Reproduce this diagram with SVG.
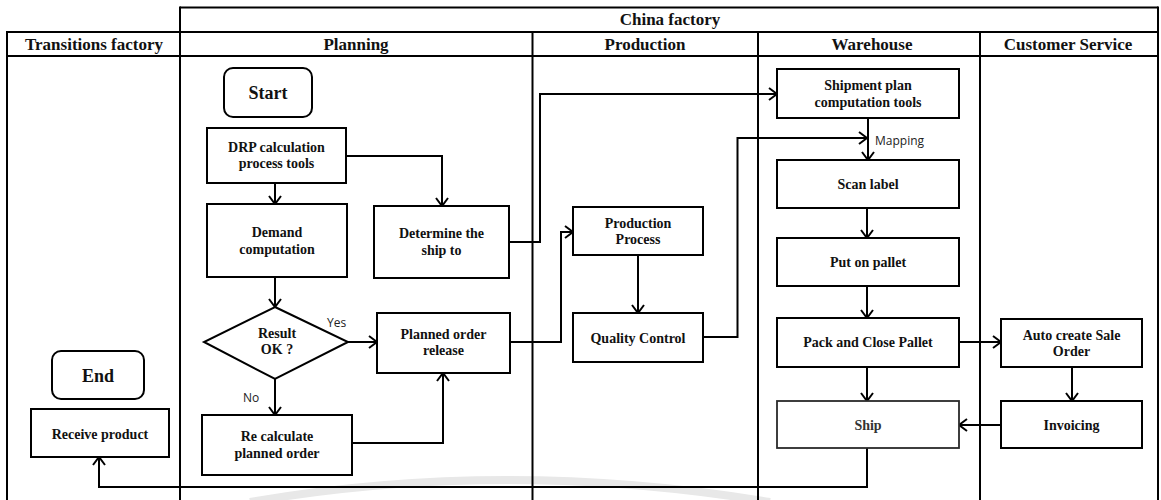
<svg xmlns="http://www.w3.org/2000/svg" width="1161" height="500" viewBox="0 0 1161 500">
  <style>
    .frame { stroke: #000; stroke-width: 2; fill: none; }
    .box { fill: #fff; stroke: #000; stroke-width: 2; }
    .box-soft { fill: #fff; stroke: #2a2a2a; stroke-width: 1.8; }
    .hdr { font-family: "Liberation Serif", "Times New Roman", serif; font-weight: bold; font-size: 17px; fill: #111; text-anchor: middle; }
    .lbl { font-family: "Liberation Serif", "Times New Roman", serif; font-weight: bold; font-size: 14px; fill: #111; text-anchor: middle; }
    .big { font-family: "Liberation Serif", "Times New Roman", serif; font-weight: bold; font-size: 18px; fill: #111; text-anchor: middle; }
    .note { font-family: "Open Sans", "Liberation Sans", sans-serif; font-size: 12px; fill: #222; }
    .wire { stroke: #000; stroke-width: 2; fill: none; marker-end: url(#arrow); }
  </style>
  <defs>
    <marker id="arrow" markerUnits="userSpaceOnUse" markerWidth="14" markerHeight="16" refX="10" refY="7" orient="auto">
      <path d="M2,1 L10,7 L2,13" fill="none" stroke="#000" stroke-width="2"/>
    </marker>
  </defs>

  <rect width="1161" height="500" fill="#fff"/>
  <!-- faint background arc near the bottom edge -->
  <path d="M250,502 Q505,458 770,502" fill="none" stroke="#e8e8e8" stroke-width="8"/>

  <!-- swimlane frame -->
  <g id="lanes">
    <line class="frame" x1="180" y1="7.5" x2="1158" y2="7.5"/>
    <line class="frame" x1="7" y1="32" x2="1158" y2="32"/>
    <line class="frame" x1="7" y1="56" x2="1158" y2="56"/>
    <line class="frame" x1="7" y1="31" x2="7" y2="500"/>
    <line class="frame" x1="180" y1="6.5" x2="180" y2="500"/>
    <line class="frame" x1="532.5" y1="32" x2="532.5" y2="500"/>
    <line class="frame" x1="758" y1="32" x2="758" y2="500"/>
    <line class="frame" x1="980" y1="32" x2="980" y2="500"/>
    <line class="frame" x1="1158" y1="6.5" x2="1158" y2="500"/>
    <text class="hdr" x="670" y="25">China factory</text>
    <text class="hdr" x="94" y="50">Transitions factory</text>
    <text class="hdr" x="356" y="50">Planning</text>
    <text class="hdr" x="645" y="50">Production</text>
    <text class="hdr" x="872" y="50">Warehouse</text>
    <text class="hdr" x="1068" y="50">Customer Service</text>
  </g>

  <!-- connectors -->
  <g id="connectors">
    <path class="wire" d="M275,183 V204"/>
    <path class="wire" d="M346,156 H442 V206"/>
    <path class="wire" d="M275,277 V307"/>
    <path class="wire" d="M348,342 H377"/>
    <path class="wire" d="M275,379 V415"/>
    <path class="wire" d="M352,443 H443 V373"/>
    <path class="wire" d="M510,342 H561 V232 H573"/>
    <path class="wire" d="M509,242 H540 V94 H777"/>
    <path class="wire" d="M638,255 V313"/>
    <path class="wire" d="M703,337 H737.5 V138 H867"/>
    <path class="wire" d="M868,118 V160"/>
    <path class="wire" d="M867,208 V238"/>
    <path class="wire" d="M867,286 V318"/>
    <path class="wire" d="M959,342 H1001"/>
    <path class="wire" d="M867,367 V401"/>
    <path class="wire" d="M1072,367 V401"/>
    <path class="wire" d="M1001,425 H959"/>
    <path class="wire" d="M867,448 V487 H99 V457"/>
    <text class="note" x="875" y="145">Mapping</text>
    <text class="note" x="327" y="327">Yes</text>
    <text class="note" x="243" y="402">No</text>
  </g>

  <g id="start">
    <rect class="box" x="224" y="68" width="88" height="49" rx="9"/>
    <text class="big" x="268" y="99">Start</text>
  </g>

  <g id="drp">
    <rect class="box" x="207" y="128" width="139" height="55"/>
    <text class="lbl" x="276.5" y="151.5">DRP calculation</text>
    <text class="lbl" x="276.5" y="168">process tools</text>
  </g>

  <g id="demand">
    <rect class="box" x="207" y="204" width="140" height="73"/>
    <text class="lbl" x="277" y="237">Demand</text>
    <text class="lbl" x="277" y="253.5">computation</text>
  </g>

  <g id="determine">
    <rect class="box" x="374" y="206" width="135" height="72"/>
    <text class="lbl" x="441.5" y="238">Determine the</text>
    <text class="lbl" x="441.5" y="255">ship to</text>
  </g>

  <g id="result">
    <polygon class="box" points="275,307 348,342 275,379 204,342"/>
    <text class="lbl" x="277" y="337.5">Result</text>
    <text class="lbl" x="277" y="354">OK ?</text>
  </g>

  <g id="planned-release">
    <rect class="box" x="377" y="313" width="133" height="60"/>
    <text class="lbl" x="443.5" y="338.5">Planned order</text>
    <text class="lbl" x="443.5" y="355">release</text>
  </g>

  <g id="recalculate">
    <rect class="box" x="202" y="415" width="150" height="60"/>
    <text class="lbl" x="277" y="441">Re calculate</text>
    <text class="lbl" x="277" y="457.5">planned order</text>
  </g>

  <g id="end">
    <rect class="box" x="52" y="351" width="92" height="48" rx="9"/>
    <text class="big" x="98" y="382">End</text>
  </g>

  <g id="receive">
    <rect class="box" x="31" y="409" width="138" height="48"/>
    <text class="lbl" x="100" y="439">Receive product</text>
  </g>

  <g id="production-process">
    <rect class="box" x="573" y="207" width="130" height="48"/>
    <text class="lbl" x="638" y="227.5">Production</text>
    <text class="lbl" x="638" y="243.5">Process</text>
  </g>

  <g id="quality-control">
    <rect class="box" x="573" y="313" width="130" height="49"/>
    <text class="lbl" x="638" y="342.5">Quality Control</text>
  </g>

  <g id="shipment-plan">
    <rect class="box" x="777" y="69" width="182" height="49"/>
    <text class="lbl" x="868" y="90">Shipment plan</text>
    <text class="lbl" x="868" y="106.5">computation tools</text>
  </g>

  <g id="scan-label">
    <rect class="box" x="777" y="160" width="182" height="48"/>
    <text class="lbl" x="868" y="188.5">Scan label</text>
  </g>

  <g id="put-on-pallet">
    <rect class="box" x="777" y="238" width="182" height="48"/>
    <text class="lbl" x="868" y="266.5">Put on pallet</text>
  </g>

  <g id="pack-close">
    <rect class="box" x="777" y="318" width="182" height="49"/>
    <text class="lbl" x="868" y="346.5">Pack and Close Pallet</text>
  </g>

  <g id="ship">
    <rect class="box-soft" x="777" y="401" width="182" height="47"/>
    <text class="lbl" x="868" y="430" style="fill:#333">Ship</text>
  </g>

  <g id="auto-sale-order">
    <rect class="box" x="1001" y="319" width="141" height="48"/>
    <text class="lbl" x="1071.5" y="339.5">Auto create Sale</text>
    <text class="lbl" x="1071.5" y="356">Order</text>
  </g>

  <g id="invoicing">
    <rect class="box" x="1001" y="401" width="141" height="47"/>
    <text class="lbl" x="1071.5" y="430">Invoicing</text>
  </g>
</svg>
